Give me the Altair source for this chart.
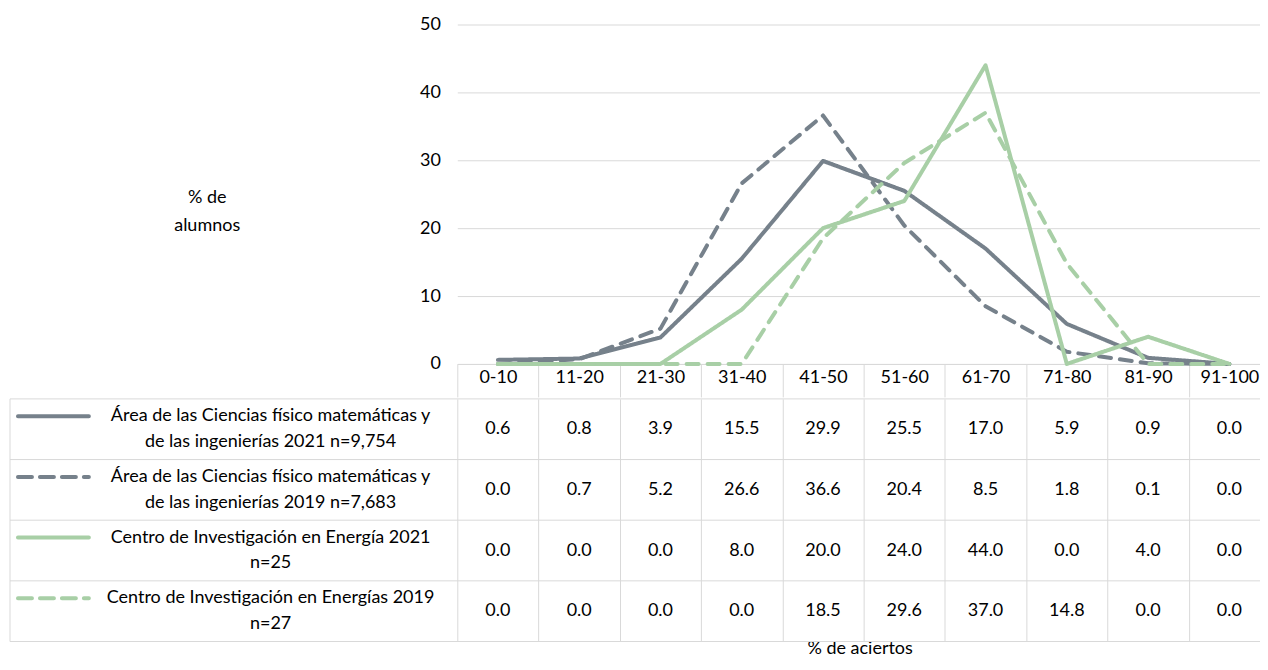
import altair as alt
import pandas as pd

categories = ["0-10", "11-20", "21-30", "31-40", "41-50", "51-60", "61-70", "71-80", "81-90", "91-100"]
series_names = [
    "Área de las Ciencias físico matemáticas y\nde las ingenierías 2021 n=9,754",
    "Área de las Ciencias físico matemáticas y\nde las ingenierías 2019 n=7,683",
    "Centro de Investigación en Energía 2021\nn=25",
    "Centro de Investigación en Energías 2019\nn=27",
]
area_2021 = [0.6, 0.8, 3.9, 15.5, 29.9, 25.5, 17.0, 5.9, 0.9, 0.0]
area_2019 = [0.0, 0.7, 5.2, 26.6, 36.6, 20.4, 8.5, 1.8, 0.1, 0.0]
cie_2021 = [0.0, 0.0, 0.0, 8.0, 20.0, 24.0, 44.0, 0.0, 4.0, 0.0]
cie_2019 = [0.0, 0.0, 0.0, 0.0, 18.5, 29.6, 37.0, 14.8, 0.0, 0.0]
y_ticks = [0, 10, 20, 30, 40, 50]

series_colors = ["#76818b", "#76818b", "#a8cfa6", "#a8cfa6"]
line_dash = [[1, 0], [12, 9], [1, 0], [12, 9]]
sample_dash = [[1, 0], [14, 8], [1, 0], [14, 8]]

rows = []
for name, vals in zip(series_names, [area_2021, area_2019, cie_2021, cie_2019]):
    for c, v in zip(categories, vals):
        rows.append({"cat": c, "serie": name, "valor": v})
df = pd.DataFrame(rows)
series_df = pd.DataFrame({"serie": series_names})
one_df = pd.DataFrame({"k": [0]})

FONT = "Lato"
FS = 18
W = 814
H_PLOT = 340
H_TAB = 243
GRID = "#d9d9d9"

x_scale = alt.Scale(type="band", domain=categories, paddingInner=0, paddingOuter=0)
color_scale = alt.Scale(domain=series_names, range=series_colors)
line_dash_scale = alt.Scale(domain=series_names, range=line_dash)
sample_dash_scale = alt.Scale(domain=series_names, range=sample_dash)
y_tab_scale = alt.Scale(type="band", domain=series_names, paddingInner=0, paddingOuter=0)

lines = alt.Chart(df).mark_line(strokeWidth=4, strokeCap="round", strokeJoin="round").encode(
    x=alt.X("cat:N", scale=x_scale, bandPosition=0.5, sort=categories,
            axis=alt.Axis(title=None, tickBand="extent", tickSize=33, tickColor=GRID,
                          domainColor=GRID, labelAngle=0, labelBaseline="middle",
                          labelPadding=-19, labelFont=FONT, labelFontSize=FS,
                          labelColor="black", grid=False)),
    y=alt.Y("valor:Q", scale=alt.Scale(domain=[0, 50]),
            axis=alt.Axis(values=y_ticks, title=["% de", "alumnos"], titleAngle=0,
                          titleX=-251, titleY=173, titleAlign="center",
                          titleBaseline="middle", titleFont=FONT, titleFontSize=FS,
                          titleFontWeight="normal", titleLineHeight=28,
                          titleColor="black", domain=False, ticks=False,
                          gridColor=GRID, labelFont=FONT, labelFontSize=FS,
                          labelPadding=17, labelColor="black")),
    color=alt.Color("serie:N", scale=color_scale, legend=None),
    strokeDash=alt.StrokeDash("serie:N", scale=line_dash_scale, legend=None),
).properties(width=W, height=H_PLOT)

y_mid = alt.Y("serie:N", scale=y_tab_scale, axis=None, bandPosition=0.5)

x_tab = alt.X("cat:N", scale=x_scale, bandPosition=0.5, sort=categories,
              axis=alt.Axis(labels=False, ticks=False, domain=False, grid=True,
                            gridColor=GRID, tickBand="extent", title="% de aciertos",
                            titleX=403, titleY=7, titleAlign="center",
                            titleBaseline="middle", titleFont=FONT, titleFontSize=FS,
                            titleFontWeight="normal", titleColor="black"))

values_text = alt.Chart(df).mark_text(font=FONT, fontSize=FS, color="black").encode(
    x=x_tab, y=y_mid, text=alt.Text("valor:Q", format=".1f"))

label_text = alt.Chart(series_df).mark_text(
    font=FONT, fontSize=FS, color="black", lineBreak="\n", lineHeight=26,
    align="center", baseline="middle", dy=-13).encode(
    x=alt.value(-187), y=y_mid, text="serie:N")

samples = alt.Chart(series_df).mark_rule(strokeWidth=4, strokeCap="round", yOffset=-13).encode(
    x=alt.value(-440), x2=alt.value(-369), y=y_mid,
    color=alt.Color("serie:N", scale=color_scale, legend=None),
    strokeDash=alt.StrokeDash("serie:N", scale=sample_dash_scale, legend=None))

h_borders = alt.Chart(series_df).mark_rule(color=GRID, strokeWidth=1).encode(
    x=alt.value(-448), x2=alt.value(W),
    y=alt.Y("serie:N", scale=y_tab_scale, axis=None, bandPosition=0))

bottom_border = alt.Chart(series_df).mark_rule(color=GRID, strokeWidth=1).encode(
    x=alt.value(-448), x2=alt.value(W),
    y=alt.Y("serie:N", scale=y_tab_scale, axis=None, bandPosition=1)
).transform_filter(alt.datum.serie == series_names[-1])

left_border = alt.Chart(one_df).mark_rule(color=GRID, strokeWidth=1).encode(
    x=alt.value(-448), y=alt.value(0), y2=alt.value(H_TAB))

table = alt.layer(h_borders, bottom_border, left_border, values_text, label_text, samples).properties(
    width=W, height=H_TAB).resolve_scale(strokeDash="independent")

chart = alt.vconcat(lines, table, spacing=0).resolve_scale(
    y="independent", strokeDash="independent"
).configure_view(stroke=None).properties(
    padding={"left": 1, "top": 7, "right": -11, "bottom": 0})

chart.save("out.html", embed_options={"renderer": "svg", "actions": False})
